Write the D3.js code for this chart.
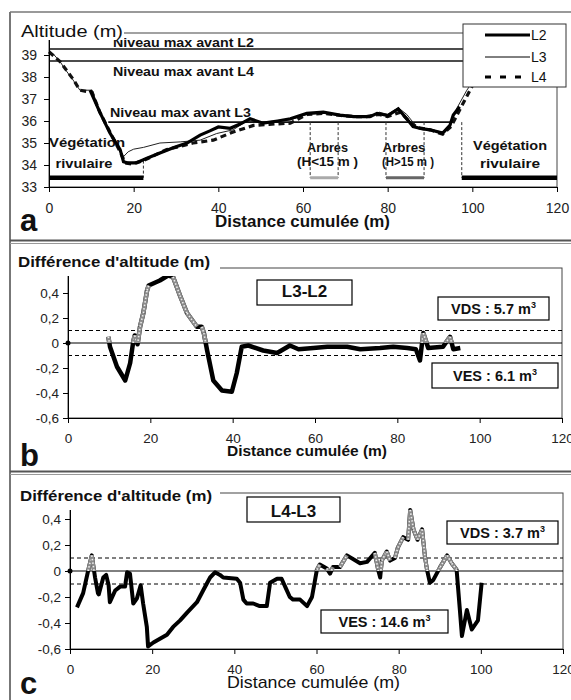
<!DOCTYPE html>
<html><head><meta charset="utf-8">
<script src="https://cdn.jsdelivr.net/npm/d3@7"></script>
<style>body{margin:0;background:#fff} svg{display:block} text{font-family:"Liberation Sans",Arial,sans-serif}</style>
</head><body><svg id="c" width="571" height="700"></svg>
<script>
// ---------- DATA ----------
const xTicks = [0, 20, 40, 60, 80, 100, 120];
const altTicks = [33, 34, 35, 36, 37, 38, 39];
const diffTicks = [0.4, 0.2, 0, -0.2, -0.4, -0.6];
const diffTickLabels = ["0,4", "0,2", "0", "-0,2", "-0,4", "-0,6"];

// Panel a : profiles (distance m, altitude m)
const l2X = [9.7, 12, 14.4, 16.8, 17.6, 18.5, 20.7, 23, 26.2, 29.5, 32.6, 35.7, 38, 40, 42.8, 45, 47.5, 50.6, 54, 57, 60.9, 64.8, 68.7, 72, 75.8, 77.5, 80, 82.5, 84.5, 86, 88, 90, 93, 94.7, 95.5, 97];
const l2Y = [37.4, 36.4, 35.45, 34.7, 34.15, 34.1, 34.1, 34.3, 34.55, 34.8, 35.0, 35.36, 35.55, 35.73, 35.67, 35.85, 36.1, 35.9, 36.0, 36.1, 36.35, 36.4, 36.27, 36.2, 36.2, 36.35, 36.25, 36.55, 36.1, 35.75, 35.65, 35.6, 35.45, 35.8, 36.27, 36.65];
const l3X = [0, 1, 2.6, 4, 5.7, 7.3, 10.2, 12, 14.4, 16.8, 17.5, 18.7, 20, 22.3, 26.2, 31, 35.7, 39.6, 43.5, 46.7, 50, 54, 57, 61, 65, 69, 72, 76, 78, 80, 82.5, 84.5, 87, 90, 93, 94.7, 96.4, 98.7, 100.5, 102];
const l3Y = [39.15, 39.05, 38.7, 38.3, 37.86, 37.4, 37.4, 36.4, 35.45, 34.6, 34.36, 34.6, 34.72, 34.8, 35.0, 35.05, 35.13, 35.43, 35.6, 36.0, 35.95, 36.0, 36.05, 36.3, 36.35, 36.25, 36.2, 36.2, 36.4, 36.3, 36.6, 36.3, 35.7, 35.6, 35.5, 35.85, 36.6, 37.4, 37.9, 38.3];
const l4X = [0, 2.6, 5.7, 7.3, 10.2, 12, 14.4, 16.8, 18, 19.5, 22.3, 25, 27.8, 31, 34, 38.8, 43.5, 48.3, 52, 57, 61, 65, 69, 72, 75, 78, 80, 83, 85, 87, 90, 93, 95, 97, 100];
const l4Y = [39.15, 38.7, 37.9, 37.4, 37.3, 36.4, 35.5, 34.6, 34.1, 34.05, 34.2, 34.45, 34.7, 34.85, 35.0, 35.13, 35.5, 35.8, 35.85, 35.9, 36.3, 36.35, 36.25, 36.2, 36.2, 36.3, 36.2, 36.4, 36.0, 35.7, 35.6, 35.4, 35.75, 36.5, 37.6];
const seriesNames = ["L2", "L3", "L4"];

// Maximum water levels (altitude, from, to)
const levelNames = ["Niveau max avant L2", "Niveau max avant L4", "Niveau max avant L3"];
const levelAlt = [39.27, 38.73, 35.95];
const levelFrom = [0, 0, 14];
const levelTo = [120, 120, 95.5];

// Vegetation zones (distance m)
const zoneNames = [["Végétation", "rivulaire"], ["Arbres", "(H<15 m )"], ["Arbres", "(H>15 m )"], ["Végétation", "rivulaire"]];
const zoneStart = [0, 61.7, 79.6, 97.5];
const zoneEnd = [22.3, 68.3, 88.6, 120];
const zoneTop = [34.2, 35.95, 35.95, 35.95];

// Panel b : L3-L2
const bOrigin = [0, 0];
const bX = [9.8, 10.2, 11.9, 13.9, 15.1, 15.8, 16.2, 16.9, 17.5, 18.3, 19.2, 19.6, 22.3, 24.3, 25.5, 27.2, 28.9, 31.3, 32.5, 33, 33.8, 35.3, 37.4, 39.8, 41, 42.2, 43.8, 47.4, 50.8, 53.9, 56, 59.6, 63, 67.8, 71, 75.8, 79, 82.4, 84.5, 85.5, 86.3, 87.5, 91.1, 92.8, 93.6, 95.3];
const bY = [0.05, -0.03, -0.19, -0.30, -0.16, 0.0, 0.06, -0.01, 0.13, 0.24, 0.42, 0.46, 0.50, 0.54, 0.53, 0.38, 0.24, 0.13, 0.13, 0.08, -0.06, -0.30, -0.38, -0.39, -0.24, -0.03, -0.02, -0.06, -0.08, -0.02, -0.05, -0.04, -0.03, -0.03, -0.05, -0.04, -0.03, -0.04, -0.05, -0.14, 0.08, -0.04, -0.03, 0.05, -0.05, -0.04];
const bLabel = "L3-L2", bVDS = "5.7", bVES = "6.1";

// Panel c : L4-L3
const cOrigin = [0, 0];
const cX = [1.7, 3.2, 4.4, 5.3, 6.1, 6.8, 7.0, 8.1, 8.8, 9.4, 9.7, 11, 12.2, 13.4, 13.9, 14.6, 15.4, 16.3, 17.2, 17.8, 18.7, 19, 20.3, 23.6, 25.1, 26.8, 28.5, 30.9, 32.4, 34.1, 35.3, 36.5, 37.3, 40.6, 41.4, 42.2, 43, 44.6, 46.2, 47.9, 48.7, 50.4, 51.5, 52.5, 53.5, 54.3, 56, 57.7, 58.9, 60.1, 60.8, 62.5, 63.3, 64, 65.7, 67.4, 70.6, 72.3, 74.2, 75, 75.5, 75.9, 77.1, 77.9, 79.1, 79.8, 81.1, 82.3, 82.8, 83.6, 84.6, 85.7, 86.4, 86.9, 87.6, 88.4, 90.1, 91.8, 92.9, 94.1, 94.9, 95.4, 96.6, 97.8, 99.3, 100.2];
const cY = [-0.28, -0.17, 0.0, 0.12, -0.05, -0.17, -0.18, -0.05, -0.03, -0.11, -0.24, -0.15, -0.12, -0.12, -0.01, -0.02, -0.25, -0.21, -0.11, -0.25, -0.43, -0.58, -0.55, -0.49, -0.43, -0.38, -0.32, -0.24, -0.15, -0.05, -0.01, -0.03, -0.05, -0.06, -0.09, -0.22, -0.25, -0.25, -0.27, -0.27, -0.09, -0.06, -0.06, -0.13, -0.2, -0.22, -0.22, -0.27, -0.2, 0.01, 0.05, 0.02, -0.02, 0.03, 0.03, 0.12, 0.06, 0.07, 0.14, 0.01, -0.05, 0.08, 0.15, 0.08, 0.1, 0.18, 0.26, 0.24, 0.47, 0.32, 0.24, 0.32, 0.11, 0.01, -0.09, -0.07, 0.03, 0.12, 0.06, 0.01, -0.3, -0.5, -0.3, -0.45, -0.38, -0.09];
const cLabel = "L4-L3", cVDS = "3.7", cVES = "14.6";
const threshold = 0.1;

// ---------- DRAWING ----------
const svg = d3.select("#c");
const FONT = '"Liberation Sans", Arial, sans-serif';
const NARROW = '"Liberation Sans Narrow", "Liberation Sans", Arial, sans-serif';

// frame
svg.append("line").attr("x1", 10).attr("x2", 10).attr("y1", 12).attr("y2", 700).attr("stroke", "#777").attr("stroke-width", 2);
svg.append("line").attr("x1", 10).attr("x2", 571).attr("y1", 12).attr("y2", 12).attr("stroke", "#777").attr("stroke-width", 1.5);
[[240.5, 243.5], [471.5, 474.5]].forEach(([a, b]) => {
  svg.append("line").attr("x1", 10).attr("x2", 571).attr("y1", a).attr("y2", a).attr("stroke", "#555").attr("stroke-width", 2);
  svg.append("line").attr("x1", 10).attr("x2", 571).attr("y1", b).attr("y2", b).attr("stroke", "#999").attr("stroke-width", 1.2);
});

function styleAxis(g, size) {
  g.attr("font-family", FONT).attr("font-size", size);
  g.selectAll("path,line").attr("stroke", "#000").attr("stroke-width", 1);
  g.selectAll("text").attr("fill", "#222");
}
function titleText(x, y, txt, size, len, bold) {
  const t = svg.append("text").attr("x", x).attr("y", y).text(txt)
    .attr("font-size", size).attr("font-weight", bold ? "bold" : "normal").attr("fill", "#111");
  if (len) t.attr("textLength", len).attr("lengthAdjust", "spacingAndGlyphs");
  return t;
}

// ===== Panel a =====
const xA = d3.scaleLinear().domain([0, 120]).range([49, 557]);
const yA = d3.scaleLinear().domain([33, 40]).range([187, 33]);

svg.append("rect").attr("x", xA(0)).attr("y", yA(40)).attr("width", xA(120) - xA(0)).attr("height", yA(33) - yA(40))
  .attr("fill", "none").attr("stroke", "#444").attr("stroke-width", 1);

// zone texts (drawn below curves)
const zoneTextX = [87, 327.5, 405, 510];
zoneNames.forEach((n, i) => {
  const cx = (i === 0) ? xA(zoneStart[0]) + 38 : (xA(zoneStart[i]) + xA(zoneEnd[i] > 110 ? zoneEnd[i] - 0 : zoneEnd[i])) / 2;
  const lens1 = [76, 41, 43, 74], lens2 = [57, 61, 52, 60];
  const x0 = [87, 327.5, 404, 510][i];
  svg.append("text").attr("x", x0).attr("y", i === 0 ? 147 : (i === 3 ? 150 : 152)).attr("text-anchor", "middle")
    .attr("font-size", 13).attr("font-weight", "bold").attr("fill", "#111")
    .attr("textLength", lens1[i]).attr("lengthAdjust", "spacingAndGlyphs").text(n[0]);
  svg.append("text").attr("x", i === 2 ? 408 : x0 - (i === 0 ? 3 : 0)).attr("y", i === 0 || i === 3 ? 168 : 166).attr("text-anchor", "middle")
    .attr("font-size", 13).attr("font-weight", "bold").attr("fill", "#111")
    .attr("textLength", lens2[i]).attr("lengthAdjust", "spacingAndGlyphs").text(n[1]);
});

// level lines
levelAlt.forEach((a, i) => {
  svg.append("line").attr("x1", xA(levelFrom[i])).attr("x2", xA(levelTo[i])).attr("y1", yA(a)).attr("y2", yA(a))
    .attr("stroke", "#111").attr("stroke-width", 1.6);
});
const levelTextY = [47, 76, 117];
const levelTextX = [113, 113, 110];
levelNames.forEach((n, i) => {
  svg.append("text").attr("x", levelTextX[i]).attr("y", levelTextY[i]).text(n)
    .attr("font-size", 13).attr("font-weight", "bold").attr("fill", "#111")
    .attr("textLength", 141).attr("lengthAdjust", "spacingAndGlyphs");
});

// zone dashed verticals and bars
const zoneColors = ["#000", "#aaa", "#666", "#000"];
const zoneWidths = [4.5, 3, 3, 4.5];
const barAlt = 33.42;
zoneStart.forEach((s, i) => {
  const edges = [];
  if (s > 0) edges.push(s);
  if (zoneEnd[i] < 120) edges.push(zoneEnd[i]);
  edges.forEach(e => {
    svg.append("line").attr("x1", xA(e)).attr("x2", xA(e)).attr("y1", yA(zoneTop[i])).attr("y2", yA(barAlt))
      .attr("stroke", "#333").attr("stroke-width", 1).attr("stroke-dasharray", "3,2");
  });
  svg.append("line").attr("x1", xA(s)).attr("x2", xA(zoneEnd[i])).attr("y1", yA(barAlt)).attr("y2", yA(barAlt))
    .attr("stroke", zoneColors[i]).attr("stroke-width", zoneWidths[i]);
});

// curves
const lineA = d3.line().x(d => xA(d[0])).y(d => yA(d[1]));
const zip = (a, b) => a.map((v, i) => [v, b[i]]);
svg.append("path").attr("d", lineA(zip(l3X, l3Y))).attr("fill", "none").attr("stroke", "#222").attr("stroke-width", 1);
svg.append("path").attr("d", lineA(zip(l4X, l4Y))).attr("fill", "none").attr("stroke", "#111").attr("stroke-width", 3.2).attr("stroke-dasharray", "6,4");
svg.append("path").attr("d", lineA(zip(l2X, l2Y))).attr("fill", "none").attr("stroke", "#000").attr("stroke-width", 3.2);

// axes a
const axA = svg.append("g").attr("transform", `translate(0,${yA(33)})`)
  .call(d3.axisBottom(xA).tickValues(xTicks).tickSize(5).tickPadding(11).tickSizeOuter(0));
styleAxis(axA, 14);
const ayA = svg.append("g").attr("transform", `translate(${xA(0)},0)`)
  .call(d3.axisLeft(yA).tickValues(altTicks).tickSize(5).tickPadding(7).tickSizeOuter(0).tickFormat(d3.format("d")));
styleAxis(ayA, 14);

// title a
svg.append("rect").attr("x", 16).attr("y", 19).attr("width", 108).attr("height", 21).attr("fill", "#fff");
titleText(21, 37, "Altitude (m)", 16.5, 102, false);
titleText(215, 227, "Distance cumulée (m)", 16, 175, true);
titleText(20, 231, "a", 31, null, true);

// legend
svg.append("rect").attr("x", 463).attr("y", 24).attr("width", 103).attr("height", 63).attr("fill", "#fff").attr("stroke", "#333").attr("stroke-width", 1);
const legW = [3.2, 1, 3.2], legDash = [null, null, "6,9"], legY = [35, 57, 77];
seriesNames.forEach((n, i) => {
  const l = svg.append("line").attr("x1", 485).attr("x2", 530).attr("y1", legY[i]).attr("y2", legY[i]).attr("stroke", "#000").attr("stroke-width", legW[i]);
  if (legDash[i]) l.attr("stroke-dasharray", legDash[i]);
  svg.append("text").attr("x", 531).attr("y", legY[i] + 5).text(n).attr("font-family", NARROW).attr("font-size", 14).attr("fill", "#111");
});

// ===== Difference panels =====
function diffPanel(p) {
  const x = d3.scaleLinear().domain([0, 120]).range([p.x0, p.x1]);
  const y = d3.scaleLinear().domain([-0.6, 0.6]).range([p.yb, p.yt]);
  svg.append("rect").attr("x", x(0)).attr("y", y(0.6)).attr("width", x(120) - x(0)).attr("height", y(-0.6) - y(0.6))
    .attr("fill", "none").attr("stroke", "#444").attr("stroke-width", 1);
  [threshold, -threshold].forEach(t => {
    svg.append("line").attr("x1", x(0)).attr("x2", x(120)).attr("y1", y(t)).attr("y2", y(t))
      .attr("stroke", "#000").attr("stroke-width", 1).attr("stroke-dasharray", "4,3");
  });
  svg.append("line").attr("x1", x(0)).attr("x2", x(120)).attr("y1", y(0)).attr("y2", y(0)).attr("stroke", "#000").attr("stroke-width", 1);

  // boxes
  function box(bx, by, bw, bh, txt, size, sup, baseline) {
    svg.append("rect").attr("x", bx).attr("y", by).attr("width", bw).attr("height", bh).attr("fill", "#fff").attr("stroke", "#000").attr("stroke-width", 1.2);
    const t = svg.append("text").attr("x", bx + bw / 2).attr("y", baseline).attr("text-anchor", "middle")
      .attr("font-size", size).attr("font-weight", "bold").attr("fill", "#111");
    t.append("tspan").text(txt);
    if (sup) t.append("tspan").attr("dy", -6).attr("font-size", 9).text("3");
  }
  box(p.lb[0], p.lb[1], p.lb[2], p.lb[3], p.label, 17, false, p.lb[4]);
  box(p.db[0], p.db[1], p.db[2], p.db[3], "VDS : " + p.vds + " m", 14.5, true, p.db[4]);
  box(p.eb[0], p.eb[1], p.eb[2], p.eb[3], "VES : " + p.ves + " m", 14.5, true, p.eb[4]);

  // data
  const pts = zip(p.xs, p.ys);
  const ln = d3.line().x(d => x(d[0])).y(d => y(d[1]));
  svg.append("path").attr("d", ln(pts)).attr("fill", "none").attr("stroke", "#000").attr("stroke-width", p.w).attr("stroke-linejoin", "round");
  svg.append("circle").attr("cx", x(p.origin[0])).attr("cy", y(p.origin[1])).attr("r", 2.5).attr("fill", "#000");
  // hollow-diamond look on steep positive parts
  const cid = "clip" + p.id;
  svg.append("clipPath").attr("id", cid).append("rect").attr("x", x(0)).attr("y", y(0.6)).attr("width", x(120) - x(0)).attr("height", y(0.0) - y(0.6));
  const gg = svg.append("g").attr("clip-path", `url(#${cid})`);
  for (let i = 0; i < pts.length - 1; i++) {
    const a = pts[i], b = pts[i + 1];
    if (Math.max(a[1], b[1]) <= 0) continue;
    const dx = Math.abs(x(b[0]) - x(a[0])), dy = Math.abs(y(b[1]) - y(a[1]));
    if (dy < dx * 1.2) continue;
    gg.append("path").attr("d", ln([a, b])).attr("stroke", "#8a8a8a").attr("stroke-width", p.w).attr("fill", "none");
    gg.append("path").attr("d", ln([a, b])).attr("stroke", "#eee").attr("stroke-width", 1.6).attr("stroke-dasharray", "1.5,2").attr("fill", "none");
  }

  const ax = svg.append("g").attr("transform", `translate(0,${y(-0.6)})`)
    .call(d3.axisBottom(x).tickValues(xTicks).tickSize(5).tickPadding(10).tickSizeOuter(0));
  styleAxis(ax, 13.5);
  const ay = svg.append("g").attr("transform", `translate(${x(0)},0)`)
    .call(d3.axisLeft(y).tickValues(diffTicks).tickSize(5).tickPadding(4).tickSizeOuter(0).tickFormat((d, i) => diffTickLabels[i]));
  styleAxis(ay, 13.5);

  svg.append("rect").attr("x", 14).attr("y", p.tb - 15).attr("width", 206).attr("height", 24).attr("fill", "#fff");
  titleText(p.tx, p.tb, "Différence d'altitude (m)", 15, 192, true);
  titleText(227, p.xb, "Distance cumulée (m)", p.xsz, p.xlen, p.xbold);
  titleText(20, p.pb, p.letter, 31, null, true);
}

diffPanel({
  id: "b", x0: 68, x1: 562, yb: 418, yt: 268, xs: bX, ys: bY, origin: bOrigin, w: 4.5,
  label: bLabel, vds: bVDS, ves: bVES,
  lb: [257, 280, 95, 25, 297], db: [438, 297, 111, 23, 314], eb: [432, 363, 126, 25, 381],
  tx: 18, tb: 267, xb: 456, xsz: 15.5, xlen: 160, xbold: true, letter: "b", pb: 466
});
diffPanel({
  id: "c", x0: 70, x1: 563, yb: 649, yt: 493, xs: cX, ys: cY, origin: cOrigin, w: 4,
  label: cLabel, vds: cVDS, ves: cVES,
  lb: [247, 497, 93, 25, 517], db: [447, 521, 111, 23, 538], eb: [321, 610, 127, 23, 627],
  tx: 20, tb: 501, xb: 688, xsz: 17, xlen: 173, xbold: false, letter: "c", pb: 694
});
</script></body></html>
